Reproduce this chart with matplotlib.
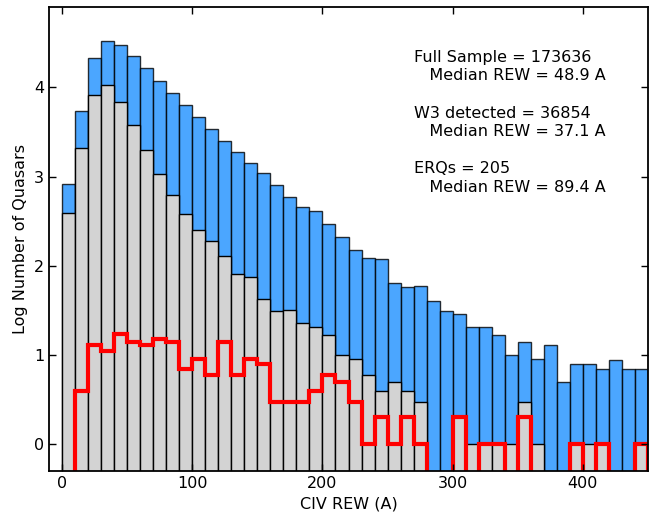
import matplotlib
matplotlib.use("Agg")
import matplotlib.pyplot as plt
import numpy as np

plt.rcParams['font.family'] = ['DejaVu Sans']
plt.rcParams['font.size'] = 11.5

# CIV REW bins, width 10 A, 0..450
bin_edges = list(range(0, 460, 10))

# log10(N) per bin (None = empty bin)
full_sample = [2.915, 3.73, 4.326, 4.517, 4.472, 4.348, 4.213, 4.075, 3.94, 3.798,
               3.671, 3.534, 3.401, 3.27, 3.157, 3.045, 2.907, 2.775, 2.663, 2.618,
               2.463, 2.319, 2.176, 2.083, 2.072, 1.809, 1.764, 1.775, 1.605, 1.492,
               1.457, 1.315, 1.315, 1.229, 0.997, 1.143, 0.952, 1.109, 0.697, 0.896,
               0.896, 0.839, 0.948, 0.839, 0.839]
w3_detected = [2.589, 3.319, 3.914, 4.022, 3.839, 3.573, 3.292, 3.034, 2.794, 2.584,
               2.401, 2.283, 2.112, 1.912, 1.87, 1.626, 1.491, 1.502, 1.364, 1.318,
               1.229, 0.997, 0.952, 0.775, 0.596, 0.693, 0.596, 0.472, None, None,
               0.301, 0.0, 0.0, 0.0, 0.0, 0.477, 0.0, None, None, 0.0,
               0.0, 0.0, None, None, 0.0]
erqs = [None, 0.602, 1.114, 1.041, 1.23, 1.146, 1.114, 1.176, 1.146, 0.845,
        0.954, 0.778, 1.146, 0.778, 0.954, 0.903, 0.477, 0.477, 0.477, 0.602,
        0.778, 0.699, 0.477, 0.0, 0.301, 0.0, 0.301, 0.0, None, None,
        0.301, None, 0.0, 0.0, None, 0.301, None, None, None, 0.0,
        None, 0.0, None, None, 0.0]

label_text = ("Full Sample = 173636\n   Median REW = 48.9 A\n\n"
              "W3 detected = 36854\n   Median REW = 37.1 A\n\n"
              "ERQs = 205\n   Median REW = 89.4 A")

floor = -1.0  # bars start below the visible axis
edges = np.array(bin_edges, dtype=float)
left = edges[:-1]
width = np.diff(edges)

def as_arr(v):
    return np.array([np.nan if x is None else x for x in v], dtype=float)

full = as_arr(full_sample)
w3 = as_arr(w3_detected)
erq = as_arr(erqs)

fig = plt.figure(figsize=(6.59, 5.13), dpi=100)
ax = fig.add_axes([49/659, 1 - 471/513, 599/659, 464/513])

m = ~np.isnan(full)
ax.bar(left[m], full[m] - floor, bottom=floor, width=width[m], align='edge',
       color='dodgerblue', edgecolor='black', linewidth=1.0, alpha=0.8)
m = ~np.isnan(w3)
ax.bar(left[m], w3[m] - floor, bottom=floor, width=width[m], align='edge',
       color='lightgray', edgecolor='black', linewidth=1.0)
erq_line = np.where(np.isnan(erq), floor, erq)
ax.stairs(erq_line, edges, baseline=floor, color='red', linewidth=3)

ax.text(270, 4.42, label_text, ha='left', va='top', linespacing=1.3)

ax.set_xlim(-10, 450)
ax.set_ylim(-0.3, 4.9)
ax.set_xticks([0, 100, 200, 300, 400])
ax.set_yticks([0, 1, 2, 3, 4])
ax.tick_params(direction='in', length=5, top=True, right=True, width=1)
for s in ax.spines.values():
    s.set_linewidth(1.3)
ax.set_xlabel("CIV REW (A)")
ax.set_ylabel("Log Number of Quasars")

fig.savefig("out.png", dpi=100)
